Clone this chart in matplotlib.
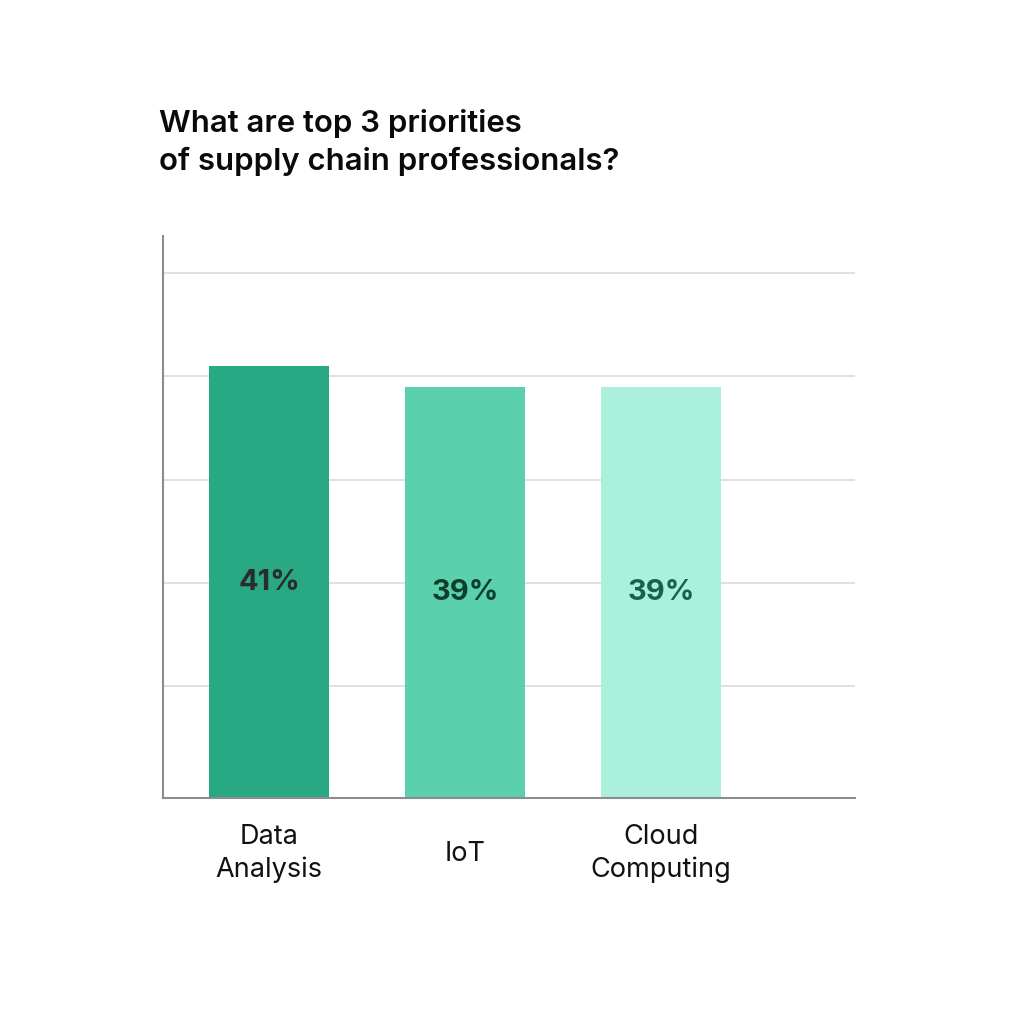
import matplotlib.pyplot as plt

# data
categories = ['Data\nAnalysis', 'IoT', 'Cloud\nComputing']
values = [41, 39, 39]
labels = ['41%', '39%', '39%']
bar_colors = ['#28a984', '#5ad0ad', '#aaf0dc']
label_colors = ['#2b2b2b', '#0e3f2c', '#17634a']
grid_ticks = [10, 20, 30, 40, 50]

plt.rcParams['font.family'] = ['Inter', 'DejaVu Sans']

fig = plt.figure(figsize=(10.14, 10.24), dpi=100)
ax = fig.add_axes([0.1608, 0.2207, 0.6824, 0.5488])

ybottom = -0.85
ax.set_ylim(ybottom, 53.6)
ax.set_xlim(-0.541, 2.99)

x = range(len(categories))
heights = [v - ybottom for v in values]
ax.bar(x, heights, bottom=ybottom, width=0.612, color=bar_colors, zorder=2)

# value labels in the middle of each bar
for i, v in enumerate(values):
    ax.text(i, (ybottom + v) / 2, labels[i], ha='center', va='center',
            fontsize=21, fontweight='bold', color=label_colors[i], zorder=3)

ax.set_yticks(grid_ticks)
ax.set_yticklabels([])
ax.grid(axis='y', color='#d9d9d9', linewidth=1.1, zorder=0)
ax.tick_params(axis='y', length=0)

ax.set_xticks(list(x))
ax.set_xticklabels(categories, fontsize=19.5, color='#111111', linespacing=1.3)
ax.tick_params(axis='x', length=0, pad=40)
for lbl in ax.get_xticklabels():
    lbl.set_va('center')

for side in ['top', 'right']:
    ax.spines[side].set_visible(False)
for side in ['left', 'bottom']:
    ax.spines[side].set_color('#8c8c8c')
    ax.spines[side].set_linewidth(1.5)

fig.text(0.1568, 1 - 109 / 1024, 'What are top 3 priorities\nof supply chain professionals?',
         ha='left', va='top', fontsize=22.4, fontweight='semibold', color='#0a0a0a',
         linespacing=1.36)

fig.savefig('out.png', dpi=100, facecolor='white')
